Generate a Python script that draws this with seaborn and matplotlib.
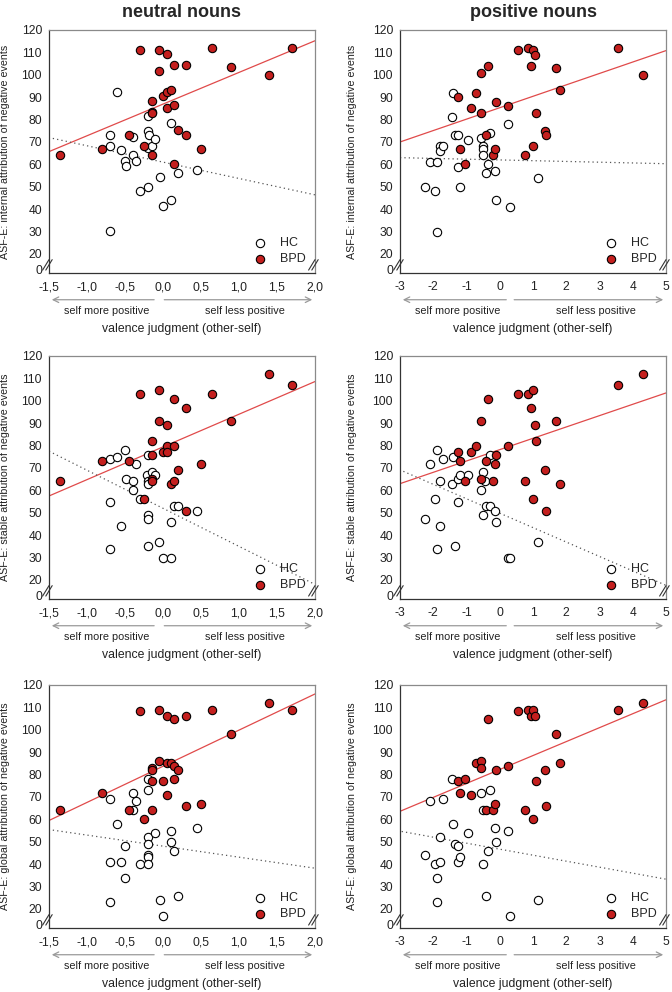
import numpy as np
import matplotlib
matplotlib.use("Agg")
import matplotlib.pyplot as plt
import seaborn as sns

# ---- data ----
# neutral nouns, internal
ni_bpd_x = [-1.35, -0.80, -0.45, -0.30, -0.25, -0.15, -0.15, -0.15, -0.15, -0.05, -0.05, 0.00, 0.05, 0.05,
            0.05, 0.10, 0.15, 0.15, 0.15, 0.20, 0.30, 0.30, 0.50, 0.65, 0.90, 1.40, 1.70]
ni_bpd_y = [64, 67, 73, 111, 68, 88.5, 83.5, 83, 64, 111, 101.5, 90.5, 109.5, 92.3,
            85.3, 93, 104.5, 86.4, 60.3, 75.5, 104.5, 73.3, 67, 112, 103.5, 100, 112]
ni_hc_x = [-0.70, -0.70, -0.70, -0.60, -0.55, -0.50, -0.49, -0.39, -0.39, -0.35, -0.30, -0.20, -0.20, -0.20,
           -0.19, -0.20, -0.14, -0.10, -0.04, 0.00, 0.10, 0.10, 0.20, 0.45]
ni_hc_y = [73.3, 68.2, 30.2, 92.3, 66.4, 61.5, 59.3, 72.2, 64.4, 61.5, 48.2, 50.1, 81.5, 74.8,
           73.3, 67.4, 68.4, 71.4, 54.4, 41.3, 44.2, 78.5, 56.3, 57.3]

# neutral nouns, stable
ns_bpd_x = [-1.35, -0.80, -0.45, -0.30, -0.25, -0.15, -0.14, -0.15, -0.15, -0.05, -0.05, 0.00, 0.05, 0.05,
            0.05, 0.10, 0.15, 0.15, 0.15, 0.20, 0.30, 0.30, 0.50, 0.65, 0.90, 1.40, 1.70]
ns_bpd_y = [64, 73, 73, 103, 56, 82, 76, 65, 64, 105, 91, 77, 89, 80,
            77, 63, 101, 80, 64, 69, 97, 51, 72, 103, 91, 112, 107]
ns_hc_x = [-0.70, -0.70, -0.70, -0.60, -0.55, -0.50, -0.49, -0.39, -0.39, -0.35, -0.30, -0.20, -0.21, -0.20,
           -0.20, -0.20, -0.20, -0.20, -0.14, -0.10, -0.05, 0.00, 0.10, 0.10, 0.15, 0.20, 0.45]
ns_hc_y = [74, 55, 34, 75, 44, 78, 65, 64, 60, 72, 56, 76, 67, 64,
           63, 49, 47, 35, 68, 67, 37, 30, 30, 46, 53, 53, 51]

# neutral nouns, global
ng_bpd_x = [-1.35, -0.80, -0.45, -0.30, -0.25, -0.15, -0.14, -0.14, -0.14, -0.05, -0.05, 0.00, 0.05, 0.05,
            0.05, 0.10, 0.15, 0.15, 0.15, 0.20, 0.30, 0.30, 0.50, 0.65, 0.90, 1.40, 1.70]
ng_bpd_y = [64, 72, 64, 108.5, 60, 83, 82, 77, 64, 109, 86, 77, 106, 85,
            71, 85, 105, 84, 78, 82, 106, 66, 67, 109, 98, 112, 109]
ng_hc_x = [-0.70, -0.70, -0.70, -0.60, -0.55, -0.50, -0.50, -0.39, -0.35, -0.39, -0.30, -0.20, -0.20, -0.20,
           -0.20, -0.20, -0.20, -0.20, -0.10, -0.04, 0.00, 0.10, 0.10, 0.15, 0.20, 0.45]
ng_hc_y = [69, 41, 23, 58, 41, 48, 34, 72, 68, 64, 40, 78, 73, 52,
           49, 44, 43, 40, 54, 24, 17, 55, 50, 46, 26, 56]

# positive nouns, internal
pi_bpd_x = [-1.25, -1.20, -1.05, -0.85, -0.70, -0.55, -0.55, -0.40, -0.35, -0.20, -0.15, -0.10, 0.25, 0.55,
            0.75, 0.85, 0.95, 1.00, 1.00, 1.05, 1.10, 1.35, 1.40, 1.70, 1.80, 3.55, 4.30]
pi_bpd_y = [90, 67, 60, 85, 92, 101, 83, 73, 104, 64, 67, 88, 86, 111,
            64, 112, 104, 111, 68, 109, 83, 75, 73, 103, 93, 112, 100]
pi_hc_x = [-2.25, -2.10, -1.95, -1.90, -1.90, -1.80, -1.80, -1.70, -1.45, -1.40, -1.35, -1.25, -1.25, -1.20,
           -0.95, -0.55, -0.50, -0.50, -0.50, -0.40, -0.35, -0.30, -0.15, -0.10, 0.25, 0.30, 1.15]
pi_hc_y = [50, 61, 48, 61, 30, 68, 66, 68, 81, 92, 73, 73, 59, 50,
           71, 72, 68, 67, 64, 56, 60, 74, 57, 44, 78, 41, 54]

# positive nouns, stable
ps_bpd_x = [-1.25, -1.20, -1.05, -0.85, -0.70, -0.55, -0.55, -0.40, -0.35, -0.20, -0.15, -0.10, 0.25, 0.55,
            0.75, 0.85, 0.95, 1.00, 1.00, 1.05, 1.10, 1.35, 1.40, 1.70, 1.80, 3.55, 4.30]
ps_bpd_y = [77, 73, 64, 77, 80, 91, 65, 73, 101, 64, 72, 76, 80, 103,
            64, 103, 97, 105, 56, 89, 82, 69, 51, 91, 63, 107, 112]
ps_hc_x = [-2.25, -2.10, -1.95, -1.90, -1.90, -1.80, -1.80, -1.70, -1.45, -1.40, -1.35, -1.25, -1.25, -1.20,
           -0.95, -0.55, -0.50, -0.50, -0.45, -0.40, -0.30, -0.30, -0.15, -0.10, 0.25, 0.30, 1.15]
ps_hc_y = [47, 72, 56, 78, 34, 64, 44, 74, 63, 75, 35, 65, 55, 67,
           67, 60, 68, 49, 64, 53, 76, 53, 51, 46, 30, 30, 37]

# positive nouns, global
pg_bpd_x = [-1.25, -1.20, -1.05, -0.85, -0.70, -0.55, -0.55, -0.40, -0.35, -0.20, -0.15, -0.10, 0.25, 0.55,
            0.75, 0.85, 0.95, 1.00, 1.00, 1.05, 1.10, 1.35, 1.40, 1.70, 1.80, 3.55, 4.30]
pg_bpd_y = [77, 72, 78, 71, 85, 86, 83, 64, 105, 64, 67, 82, 84, 108.5,
            64, 109, 106, 109, 60, 106, 77, 82, 66, 98, 85, 109, 112]
pg_hc_x = [-2.25, -2.10, -1.95, -1.90, -1.90, -1.80, -1.80, -1.70, -1.45, -1.40, -1.35, -1.25, -1.25, -1.20,
           -0.95, -0.55, -0.50, -0.50, -0.40, -0.35, -0.30, -0.15, -0.10, 0.25, 0.30, 1.15]
pg_hc_y = [44, 68, 40, 34, 23, 52, 41, 69, 78, 58, 49, 48, 41, 43,
           54, 72, 64, 40, 26, 46, 73, 56, 50, 55, 17, 24]

# regression lines (end points)
ni_bpd_line = ([-1.5, 2.0], [65.7, 115.2]); ni_hc_line = ([-1.45, 2.0], [71.6, 46.4])
ns_bpd_line = ([-1.5, 2.0], [57.5, 108.6]); ns_hc_line = ([-1.5, 2.0], [77.5, 18.0])
ng_bpd_line = ([-1.5, 2.0], [59.5, 116.0]); ng_hc_line = ([-1.45, 2.0], [55.2, 38.2])
pi_bpd_line = ([-3.0, 5.0], [70.0, 110.8]); pi_hc_line = ([-3.0, 5.0], [63.0, 60.3])
ps_bpd_line = ([-3.0, 5.0], [63.0, 103.5]); ps_hc_line = ([-2.9, 5.0], [68.5, 17.6])
pg_bpd_line = ([-3.0, 5.0], [63.6, 113.4]); pg_hc_line = ([-2.95, 5.0], [54.6, 33.3])

neutral_ticks = [-1.5, -1.0, -0.5, 0.0, 0.5, 1.0, 1.5, 2.0]
neutral_ticklabels = ["-1,5", "-1,0", "-0,5", "0,0", "0,5", "1,0", "1,5", "2,0"]
positive_ticks = [-3, -2, -1, 0, 1, 2, 3, 4, 5]
positive_ticklabels = ["-3", "-2", "-1", "0", "1", "2", "3", "4", "5"]
y_ticks = [20, 30, 40, 50, 60, 70, 80, 90, 100, 110, 120]

col_titles = ["neutral nouns", "positive nouns"]
row_labels = ["ASF-E: internal attribution of negative events",
              "ASF-E: stable attribution of negative events",
              "ASF-E: global attribution of negative events"]

# ---- style ----
sns.set_style("white")
plt.rcParams["font.family"] = ["Liberation Sans", "DejaVu Sans"]
RED = "#c41f1e"
LINE_RED = "#e04a4a"

fig = plt.figure(figsize=(6.72, 9.92), dpi=100)
W, H = 672, 992

col_left = [49, 400]
row_top = [30, 356, 685]
ax_w, ax_h = 266, 243

panels = [
    [(ni_hc_x, ni_hc_y, ni_bpd_x, ni_bpd_y, ni_hc_line, ni_bpd_line),
     (pi_hc_x, pi_hc_y, pi_bpd_x, pi_bpd_y, pi_hc_line, pi_bpd_line)],
    [(ns_hc_x, ns_hc_y, ns_bpd_x, ns_bpd_y, ns_hc_line, ns_bpd_line),
     (ps_hc_x, ps_hc_y, ps_bpd_x, ps_bpd_y, ps_hc_line, ps_bpd_line)],
    [(ng_hc_x, ng_hc_y, ng_bpd_x, ng_bpd_y, ng_hc_line, ng_bpd_line),
     (pg_hc_x, pg_hc_y, pg_bpd_x, pg_bpd_y, pg_hc_line, pg_bpd_line)],
]

for r in range(3):
    for c in range(2):
        hx, hy, bx, by, hline, bline = panels[r][c]
        ax = fig.add_axes([col_left[c] / W, 1 - (row_top[r] + ax_h) / H, ax_w / W, ax_h / H])

        # regression lines
        ax.plot(bline[0], bline[1], color=LINE_RED, lw=0.9, zorder=2)
        ax.plot(hline[0], hline[1], color="#555555", lw=0.9, ls=(0, (1, 2.5)), zorder=2)

        sns.scatterplot(x=hx, y=hy, ax=ax, color="white", edgecolor="black", linewidth=0.8,
                        s=36, label="HC", zorder=3)
        sns.scatterplot(x=bx, y=by, ax=ax, color=RED, edgecolor="black", linewidth=0.8,
                        s=36, label="BPD", zorder=4)

        if c == 0:
            xt, xl, xlim = neutral_ticks, neutral_ticklabels, (-1.5, 2.0)
            arr_l, arr_r = (-0.08, -1.5), (-0.02, 2.0)
            txt_l, txt_r = -0.745, 1.08
        else:
            xt, xl, xlim = positive_ticks, positive_ticklabels, (-3, 5)
            arr_l, arr_r = (0.28, -3.0), (0.35, 5.0)
            txt_l, txt_r = -1.27, 2.9

        ax.set_xlim(*xlim)
        ax.set_ylim(11.5, 120)
        ax.set_xticks(xt)
        ax.set_xticklabels(xl)
        ax.set_yticks([13] + y_ticks)
        ax.set_yticklabels(["0"] + [str(v) for v in y_ticks])
        ax.tick_params(axis="both", direction="out", length=3, width=0.8, labelsize=8.7,
                       colors="#222222", pad=2)
        ax.tick_params(axis="x", pad=3)

        for side in ["left", "bottom"]:
            ax.spines[side].set_color("#333333")
            ax.spines[side].set_linewidth(0.9)
        for side in ["top", "right"]:
            ax.spines[side].set_color("#8a8a8a")
            ax.spines[side].set_linewidth(0.9)

        # axis break marks
        for xb in (0.0, 1.0):
            for dx in (-0.012, 0.0):
                ax.plot([xb + dx - 0.012, xb + dx + 0.012], [0.012, 0.055], transform=ax.transAxes,
                        color="#333333", lw=0.8, clip_on=False, zorder=6)

        # direction arrows below the x axis
        ax.annotate("", xy=(arr_l[1], -0.11), xytext=(arr_l[0], -0.11),
                    xycoords=("data", "axes fraction"), textcoords=("data", "axes fraction"),
                    arrowprops=dict(arrowstyle="->", color="#9a9a9a", lw=0.9), annotation_clip=False)
        ax.annotate("", xy=(arr_r[1], -0.11), xytext=(arr_r[0], -0.11),
                    xycoords=("data", "axes fraction"), textcoords=("data", "axes fraction"),
                    arrowprops=dict(arrowstyle="->", color="#9a9a9a", lw=0.9), annotation_clip=False)
        ax.text(txt_l, -0.155, "self more positive", transform=ax.get_xaxis_transform(),
                ha="center", va="center", fontsize=7.8, color="#222222")
        ax.text(txt_r, -0.155, "self less positive", transform=ax.get_xaxis_transform(),
                ha="center", va="center", fontsize=7.8, color="#222222")

        ax.set_xlabel("valence judgment (other-self)", fontsize=8.8, color="#222222")
        ax.xaxis.set_label_coords(0.5, -0.205)
        ax.set_ylabel(row_labels[r], fontsize=7.7, color="#222222")
        ax.yaxis.set_label_coords(-0.147 if c == 0 else -0.16, 0.5)

        leg = ax.legend(loc="lower right", frameon=False, fontsize=9, handletextpad=0.6,
                        borderaxespad=0.25, labelspacing=0.3, bbox_to_anchor=(0.995, 0.0))

        if r == 0:
            ax.set_title(col_titles[c], fontsize=13, fontweight="bold", pad=9)

fig.savefig("out.png", dpi=100)
